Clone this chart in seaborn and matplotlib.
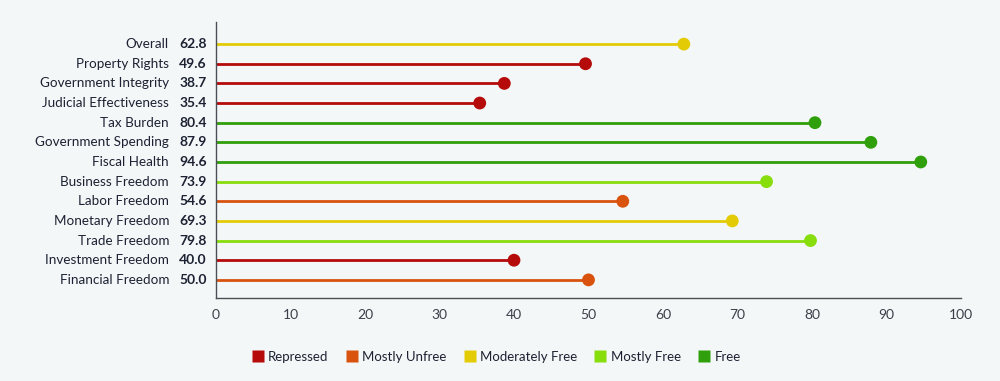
import pandas as pd
import matplotlib.pyplot as plt
import matplotlib.transforms as mtransforms
from matplotlib.lines import Line2D
import seaborn as sns

# data
categories = ["Overall", "Property Rights", "Government Integrity",
              "Judicial Effectiveness", "Tax Burden", "Government Spending",
              "Fiscal Health", "Business Freedom", "Labor Freedom",
              "Monetary Freedom", "Trade Freedom", "Investment Freedom",
              "Financial Freedom"]
scores = [62.8, 49.6, 38.7, 35.4, 80.4, 87.9, 94.6, 73.9, 54.6, 69.3, 79.8,
          40.0, 50.0]
status = ["Moderately Free", "Repressed", "Repressed", "Repressed", "Free",
          "Free", "Free", "Mostly Free", "Mostly Unfree", "Moderately Free",
          "Mostly Free", "Repressed", "Mostly Unfree"]
levels = ["Repressed", "Mostly Unfree", "Moderately Free", "Mostly Free",
          "Free"]
level_colors = ["#b50b0b", "#d9530f", "#e3cc06", "#88dd0c", "#2f9f0c"]
x_ticks = list(range(0, 101, 10))

df = pd.DataFrame({"category": categories, "score": scores,
                   "status": status})
df["pos"] = range(len(df))
palette = dict(zip(levels, level_colors))

sns.set_theme(style="white")
plt.rcParams['font.family'] = ['Lato', 'DejaVu Sans']
bg = "#f4f7f7"
text_col = "#1c2233"

fig = plt.figure(figsize=(10, 3.81), dpi=100, facecolor=bg)
ax = fig.add_axes([0.216, 0.218, 0.745, 0.724], facecolor=bg)

# stems
for _, r in df.iterrows():
    ax.hlines(r["pos"], 0, r["score"], color=palette[r["status"]], lw=2,
              zorder=2)

sns.scatterplot(data=df, x="score", y="pos", hue="status", hue_order=levels,
                palette=palette, s=85, edgecolor="none", legend=False,
                ax=ax, zorder=3)

ax.set_xlim(0, 100)
ax.set_ylim(len(df) - 1 + 0.92, -1.12)
ax.set_xticks(x_ticks)
ax.set_xticklabels([str(t) for t in x_ticks], color="#3a3f4a", fontsize=10)
ax.tick_params(axis="x", length=0, pad=8)
ax.set_yticks([])
ax.set_xlabel("")
ax.set_ylabel("")
for s in ["top", "right"]:
    ax.spines[s].set_visible(False)
for s in ["left", "bottom"]:
    ax.spines[s].set_color("#4a4f55")
    ax.spines[s].set_linewidth(1)

# category names and bold scores to the left of the axis
trans = mtransforms.blended_transform_factory(fig.transFigure, ax.transData)
for _, r in df.iterrows():
    ax.text(0.169, r["pos"], r["category"], transform=trans, ha="right",
            va="center", fontsize=9.7, color=text_col)
    ax.text(0.207, r["pos"], f"{r['score']:.1f}", transform=trans,
            ha="right", va="center", fontsize=10, fontweight="bold",
            color=text_col)

handles = [Line2D([0], [0], marker="s", linestyle="", markersize=8,
                  markerfacecolor=c, markeredgecolor="none")
           for c in level_colors]
fig.legend(handles, levels, loc="center", bbox_to_anchor=(0.496, 0.063),
           ncol=5, frameon=False, fontsize=9.5, handlelength=1.0,
           handletextpad=0.3, columnspacing=1.25, labelcolor=text_col)

fig.savefig("out.png", dpi=100, facecolor=bg)
